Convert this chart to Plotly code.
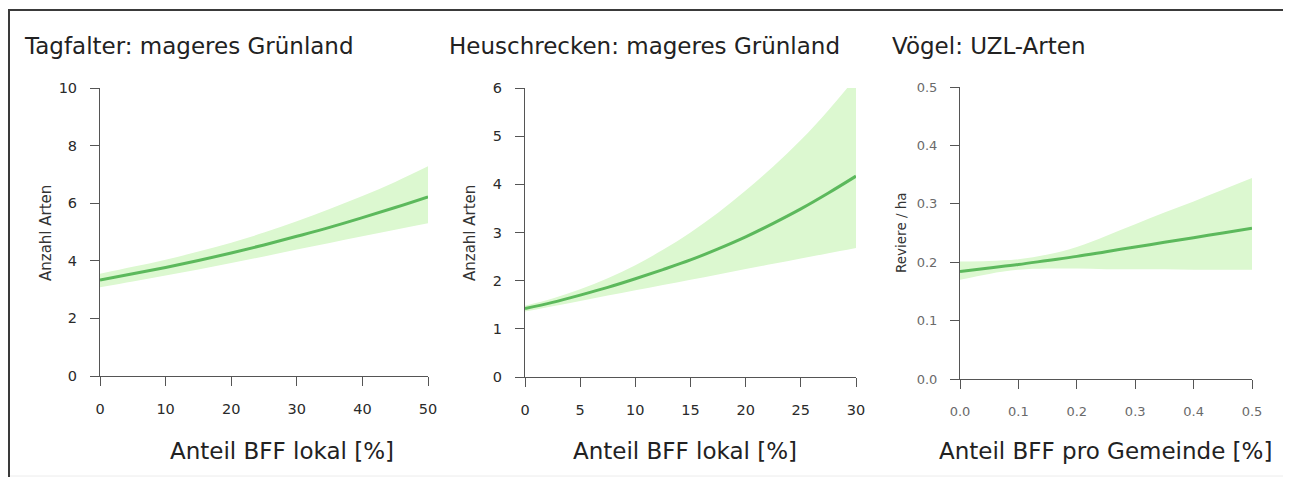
import plotly.graph_objects as go

# page offset (browser body margin) and figure size so that the page is exactly 1291x485
OFF = 8
W, H = 1291 - 2 * OFF, 485 - 2 * OFF

# ---- data ----
titles = ["Tagfalter: mageres Grünland", "Heuschrecken: mageres Grünland", "Vögel: UZL-Arten"]
x_titles = ["Anteil BFF lokal [%]", "Anteil BFF lokal [%]", "Anteil BFF pro Gemeinde [%]"]
y_titles = ["Anzahl Arten", "Anzahl Arten", "Reviere / ha"]

tag_x = [0, 5, 10, 15, 20, 25, 30, 35, 40, 45, 50]
tag_mean = [3.33, 3.55, 3.77, 4.01, 4.27, 4.55, 4.85, 5.16, 5.50, 5.85, 6.22]
tag_upper = [3.55, 3.79, 4.04, 4.32, 4.63, 4.98, 5.37, 5.80, 6.25, 6.74, 7.28]
tag_lower = [3.08, 3.28, 3.49, 3.70, 3.92, 4.15, 4.39, 4.62, 4.85, 5.08, 5.30]

heu_x = [0, 2.5, 5, 7.5, 10, 12.5, 15, 17.5, 20, 22.5, 25, 27.5, 30]
heu_mean = [1.42, 1.55, 1.70, 1.86, 2.04, 2.23, 2.43, 2.66, 2.91, 3.19, 3.49, 3.82, 4.17]
heu_upper = [1.48, 1.63, 1.82, 2.05, 2.32, 2.64, 3.00, 3.41, 3.87, 4.37, 4.92, 5.54, 6.22]
heu_lower = [1.36, 1.47, 1.58, 1.69, 1.80, 1.91, 2.02, 2.13, 2.24, 2.35, 2.46, 2.57, 2.68]

vog_x = [0.0, 0.05, 0.1, 0.15, 0.2, 0.25, 0.3, 0.35, 0.4, 0.45, 0.5]
vog_mean = [0.184, 0.190, 0.196, 0.203, 0.210, 0.218, 0.226, 0.234, 0.242, 0.250, 0.258]
vog_upper = [0.201, 0.202, 0.205, 0.213, 0.226, 0.245, 0.265, 0.285, 0.304, 0.324, 0.344]
vog_lower = [0.170, 0.180, 0.187, 0.189, 0.189, 0.188, 0.188, 0.188, 0.187, 0.187, 0.187]

x_ranges = [[0, 50], [0, 30], [0, 0.5]]
y_ranges = [[0, 10], [0, 6], [0, 0.5]]
x_ticks = [[0, 10, 20, 30, 40, 50], [0, 5, 10, 15, 20, 25, 30], [0, 0.1, 0.2, 0.3, 0.4, 0.5]]
y_ticks = [[0, 2, 4, 6, 8, 10], [0, 1, 2, 3, 4, 5, 6], [0, 0.1, 0.2, 0.3, 0.4, 0.5]]
x_ticktext = [None, None, ["0.0", "0.1", "0.2", "0.3", "0.4", "0.5"]]
y_ticktext = [None, None, ["0.0", "0.1", "0.2", "0.3", "0.4", "0.5"]]

series = [
    (tag_x, tag_mean, tag_upper, tag_lower),
    (heu_x, heu_mean, heu_upper, heu_lower),
    (vog_x, vog_mean, vog_upper, vog_lower),
]

# ---- layout (pixel positions in the 1291x485 window) ----
px_x = [(100, 428), (525, 856), (960, 1252)]
px_y = [(88, 376), (88, 377), (87, 379)]
title_x = [22, 447, 890]
xtitle_cx = [282, 685, 1105]
ytitle_cx = [46, 470, 901]


def fx(px):
    return (px - OFF) / W


def fy(py):
    return 1 - (py - OFF) / H


FONT = "DejaVu Sans"
LINE = "#5cb95c"
BAND = "#dcf8d0"
AX = "#555555"

fig = go.Figure()
layout = dict(
    width=W, height=H, margin=dict(l=0, r=0, t=0, b=0, autoexpand=False),
    paper_bgcolor="white", plot_bgcolor="white", showlegend=False,
    font=dict(family=FONT, color="#333333"),
)
annotations = []
for i, (xs, m, up, lo) in enumerate(series):
    n = "" if i == 0 else str(i + 1)
    xa, ya = "x" + n, "y" + n
    fig.add_trace(go.Scatter(
        x=xs, y=lo, mode="lines", line=dict(width=0, shape="spline", color=BAND),
        hoverinfo="skip", xaxis=xa, yaxis=ya))
    fig.add_trace(go.Scatter(
        x=xs, y=up, mode="lines", line=dict(width=0, shape="spline", color=BAND),
        fill="tonexty", fillcolor=BAND, hoverinfo="skip", xaxis=xa, yaxis=ya))
    fig.add_trace(go.Scatter(
        x=xs, y=m, mode="lines", line=dict(color=LINE, width=3, shape="spline"),
        xaxis=xa, yaxis=ya))
    x0, x1 = px_x[i]
    y0, y1 = px_y[i]
    tickfont = dict(size=14.5, color="#2a2a2a", family=FONT)
    if i == 2:
        tickfont = dict(size=13, color="#6a6a6a", family=FONT)
    xd = dict(domain=[fx(x0), fx(x1)], range=x_ranges[i], anchor=ya, automargin=False,
              showgrid=False, zeroline=False, showline=True, linecolor=AX, linewidth=1,
              ticks="outside", ticklen=9, tickcolor=AX, tickwidth=1,
              tickmode="array", tickvals=x_ticks[i], tickfont=tickfont,
              ticklabelstandoff=11)
    if x_ticktext[i]:
        xd["ticktext"] = x_ticktext[i]
    yd = dict(domain=[fy(y1), fy(y0)], range=y_ranges[i], anchor=xa, automargin=False,
              showgrid=False, zeroline=False, showline=True, linecolor=AX, linewidth=1,
              ticks="outside", ticklen=9, tickcolor=AX, tickwidth=1,
              tickmode="array", tickvals=y_ticks[i], tickfont=tickfont,
              ticklabelstandoff=10)
    if y_ticktext[i]:
        yd["ticktext"] = y_ticktext[i]
    layout["xaxis" + n] = xd
    layout["yaxis" + n] = yd

    annotations.append(dict(text=titles[i], x=fx(title_x[i]), y=fy(46),
                            xref="paper", yref="paper", xanchor="left", yanchor="middle",
                            showarrow=False, font=dict(size=23, color="#222222", family=FONT)))
    annotations.append(dict(text=x_titles[i], x=fx(xtitle_cx[i]), y=fy(451),
                            xref="paper", yref="paper", xanchor="center", yanchor="middle",
                            showarrow=False, font=dict(size=23, color="#222222", family=FONT)))
    annotations.append(dict(text=y_titles[i], x=fx(ytitle_cx[i]), y=fy(233),
                            xref="paper", yref="paper", xanchor="center", yanchor="middle",
                            textangle=-90, showarrow=False,
                            font=dict(size=15 if i < 2 else 13.5, color="#333333", family=FONT)))

layout["annotations"] = annotations
layout["shapes"] = [
    dict(type="line", xref="paper", yref="paper", x0=0, x1=1, y0=fy(10), y1=fy(10),
         line=dict(color="#3a3a3a", width=2)),
    dict(type="line", xref="paper", yref="paper", x0=fx(9), x1=fx(9), y0=fy(10), y1=0,
         line=dict(color="#3a3a3a", width=2)),
    dict(type="line", xref="paper", yref="paper", x0=fx(10), x1=1, y0=fy(476), y1=fy(476),
         line=dict(color="#ececec", width=1)),
]
fig.update_layout(**layout)
fig.write_html("out.html", config={"displayModeBar": False})
